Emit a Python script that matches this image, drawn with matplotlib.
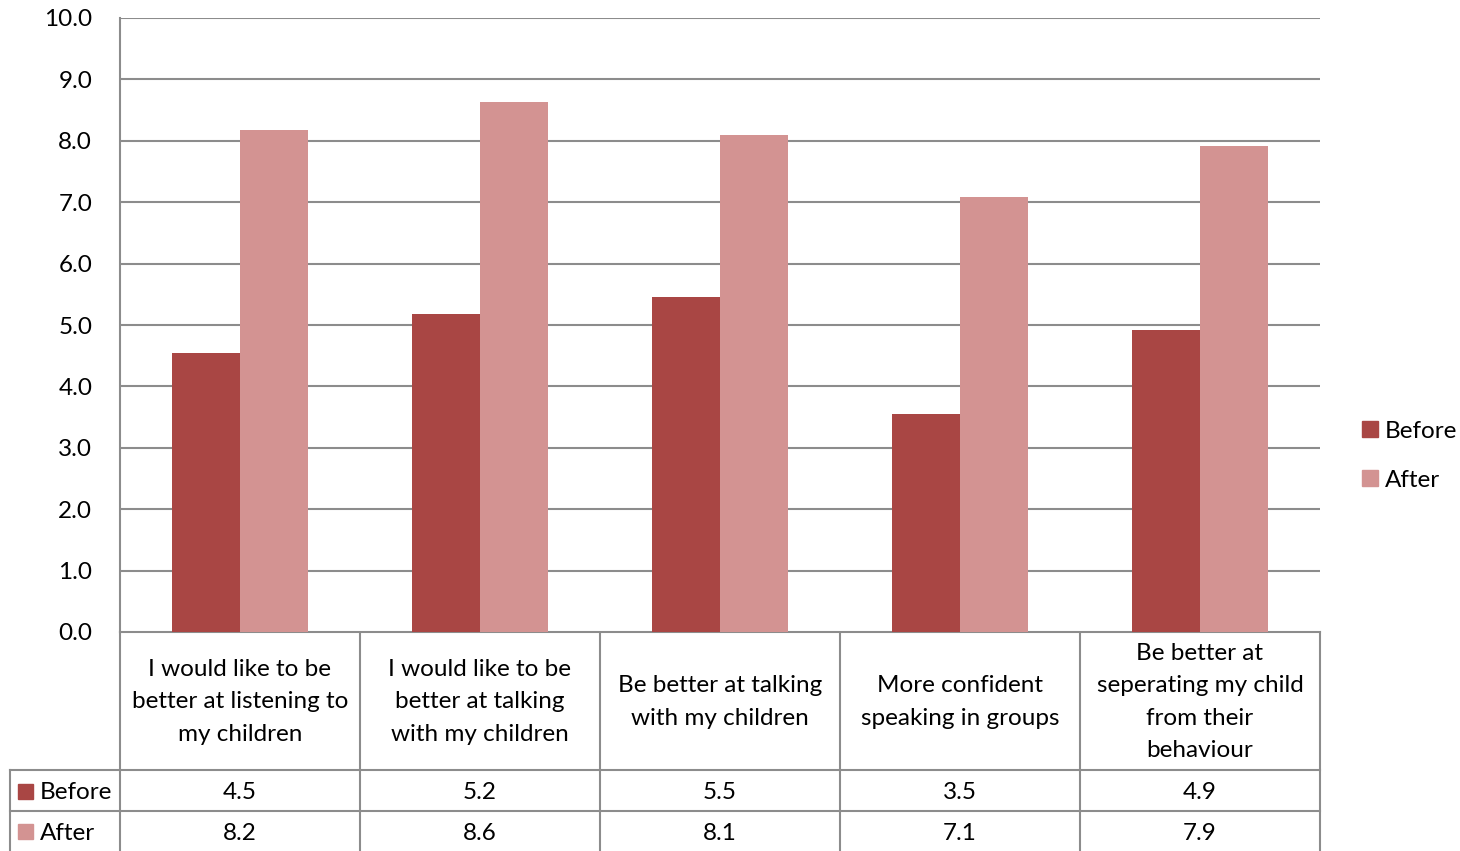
import numpy as np
import matplotlib.pyplot as plt
from matplotlib.patches import Patch

plt.rcParams['font.family'] = ['Lato', 'DejaVu Sans']

categories = ['I would like to be\nbetter at listening to\nmy children',
              'I would like to be\nbetter at talking\nwith my children',
              'Be better at talking\nwith my children',
              'More confident\nspeaking in groups',
              'Be better at\nseperating my child\nfrom their\nbehaviour']
before = [4.54, 5.18, 5.45, 3.55, 4.92]
after = [8.18, 8.64, 8.09, 7.08, 7.91]
before_labels = ['4.5', '5.2', '5.5', '3.5', '4.9']
after_labels = ['8.2', '8.6', '8.1', '7.1', '7.9']

c_before = '#A94644'
c_after = '#D39392'
c_line = '#8C8C8C'
W, H = 1460, 851
fs = 17.5

fig = plt.figure(figsize=(W / 100, H / 100), dpi=100)

# pixel helper axes for the data table
ov = fig.add_axes([0, 0, 1, 1])
ov.set_xlim(0, W)
ov.set_ylim(H, 0)
ov.axis('off')

ax = fig.add_axes([120 / W, (H - 632) / H, 1200 / W, 614 / H])
x = np.arange(len(categories)) + 0.5
bw = 0.285
ax.bar(x - bw / 2, before, bw, color=c_before, zorder=3)
ax.bar(x + bw / 2, after, bw, color=c_after, zorder=3)
ax.set_xlim(0, 5)
ax.set_ylim(0, 10)
ax.set_yticks(np.arange(0, 11, 1))
ax.set_yticklabels(['%.1f' % v for v in np.arange(0, 11, 1)], fontsize=fs)
ax.tick_params(axis='y', length=0, pad=20)
ax.set_xticks([])
ax.grid(axis='y', color=c_line, linewidth=1.5, zorder=0)
for s in ['top', 'right', 'bottom']:
    ax.spines[s].set_visible(False)
ax.spines['left'].set_color(c_line)
ax.spines['left'].set_linewidth(1.5)

ax.legend(handles=[Patch(color=c_before, label='Before'), Patch(color=c_after, label='After')],
          loc='center left', bbox_to_anchor=(1.035, 0.287), frameon=False, fontsize=fs,
          handlelength=0.65, handleheight=0.65, handletextpad=0.3, labelspacing=1.15,
          borderaxespad=0, borderpad=0)

# data table
x0, xl, xr = 10, 120, 1320
col = 240
ys = [632, 770, 811, 851]
lk = dict(color=c_line, linewidth=1.5, clip_on=False)
ov.plot([xl, xr], [ys[0], ys[0]], **lk)
for y in ys[1:3]:
    ov.plot([x0, xr], [y, y], **lk)
ov.plot([x0, x0], [ys[1], ys[3]], **lk)
for i in range(6):
    ov.plot([xl + i * col] * 2, [ys[0], ys[3]], **lk)

for i, cat in enumerate(categories):
    cx = xl + col * (i + 0.5)
    ov.text(cx, (ys[0] + ys[1]) / 2 + 1, cat, ha='center', va='center', fontsize=fs, linespacing=1.66)
    ov.text(cx, (ys[1] + ys[2]) / 2 + 2, before_labels[i], ha='center', va='center', fontsize=fs)
    ov.text(cx, (ys[2] + ys[3]) / 2 + 2, after_labels[i], ha='center', va='center', fontsize=fs)

for j, (lab, c) in enumerate([('Before', c_before), ('After', c_after)]):
    yc = (ys[j + 1] + ys[j + 2]) / 2
    ov.add_patch(plt.Rectangle((18, yc - 7), 15, 15, color=c))
    ov.text(40, yc + 2, lab, ha='left', va='center', fontsize=fs)

fig.savefig('out.png', dpi=100)
